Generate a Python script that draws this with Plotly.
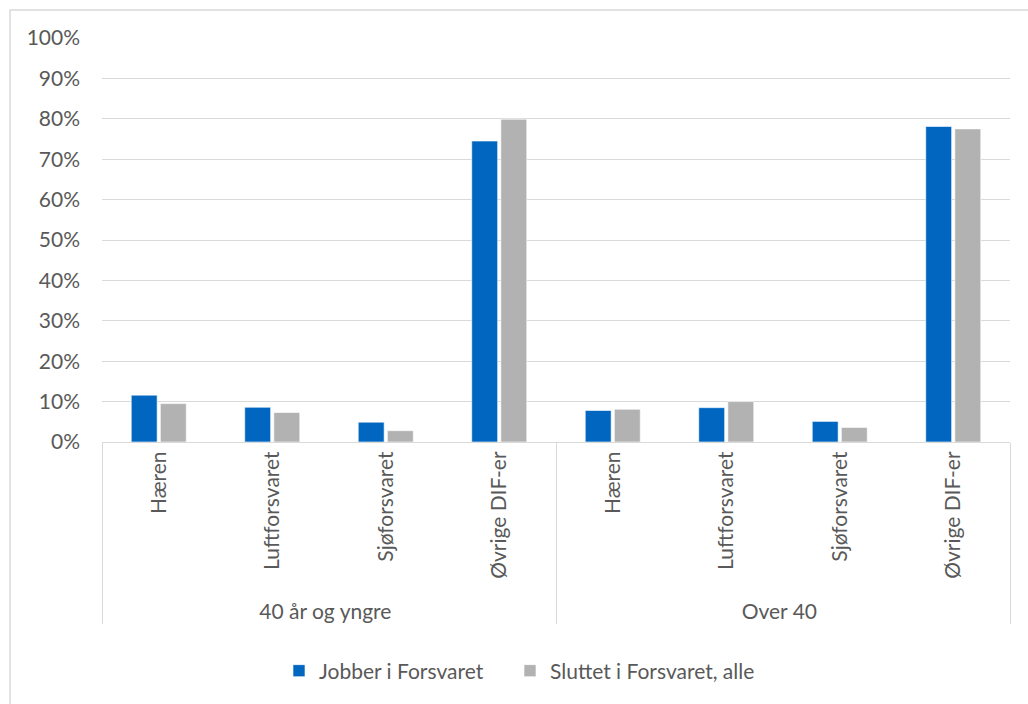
import plotly.graph_objects as go

groups = ["40 år og yngre"] * 4 + ["Over 40"] * 4
categories = ["Hæren", "Luftforsvaret", "Sjøforsvaret", "Øvrige DIF-er"] * 2
jobber = [11.6, 8.6, 4.9, 74.5, 7.8, 8.5, 5.1, 78.1]
sluttet = [9.5, 7.3, 2.8, 79.9, 8.1, 10.0, 3.6, 77.5]
series_names = ["Jobber i Forsvaret", "Sluttet i Forsvaret, alle"]
y_ticks = list(range(0, 101, 10))
y_tick_labels = [f"{v}%" for v in y_ticks]

FONT = "Lato, 'Open Sans', sans-serif"
TXT = "#595959"
FS = 21
W, H = 1028, 704
ML, MR, MT, MB = 102, 18, 38, 262

fig = go.Figure()
fig.add_trace(go.Bar(x=[groups, categories], y=jobber, name=series_names[0], legend="legend",
                     marker=dict(color="#0066c0", line=dict(color="#ffffff", width=0.6))))
fig.add_trace(go.Bar(x=[groups, categories], y=sluttet, name=series_names[1], legend="legend2",
                     marker=dict(color="#b2b2b2", line=dict(color="#ffffff", width=0.6))))

pw = W - ML - MR
ph = H - MT - MB
fig.add_shape(type="rect", xref="paper", yref="paper",
              x0=(10 - ML) / pw, x1=(1100 - ML) / pw,
              y0=-(800 - (H - MB)) / ph,
              y1=1 + (MT - 10) / ph,
              line=dict(color="#d9d9d9", width=1.5), fillcolor="rgba(0,0,0,0)", layer="below")

leg_common = dict(orientation="h", xanchor="left", y=-(671 - (H - MB)) / ph,
                  yanchor="middle", font=dict(size=FS, color=TXT), itemwidth=30,
                  bgcolor="rgba(0,0,0,0)")

fig.update_layout(
    width=W, height=H,
    margin=dict(l=ML, r=MR, t=MT, b=MB),
    paper_bgcolor="white", plot_bgcolor="white",
    barmode="group", bargap=0.487, bargroupgap=0.11,
    font=dict(family=FONT, size=FS, color=TXT),
    showlegend=True,
    legend=dict(x=(279 - ML) / pw, **leg_common),
    legend2=dict(x=(510 - ML) / pw, **leg_common),
    xaxis=dict(type="multicategory", showline=True, linecolor="#d9d9d9", linewidth=1,
               showdividers=True, dividercolor="#d9d9d9", dividerwidth=1,
               tickangle=-90, tickfont=dict(size=FS, color=TXT), ticks=""),
    yaxis=dict(range=[0, 100], tickvals=y_ticks, ticktext=y_tick_labels, showgrid=True,
               gridcolor="#d9d9d9", gridwidth=1, zeroline=False, showline=False,
               tickfont=dict(size=FS, color=TXT), ticklabelstandoff=21),
)

fig.write_html("out.html")
